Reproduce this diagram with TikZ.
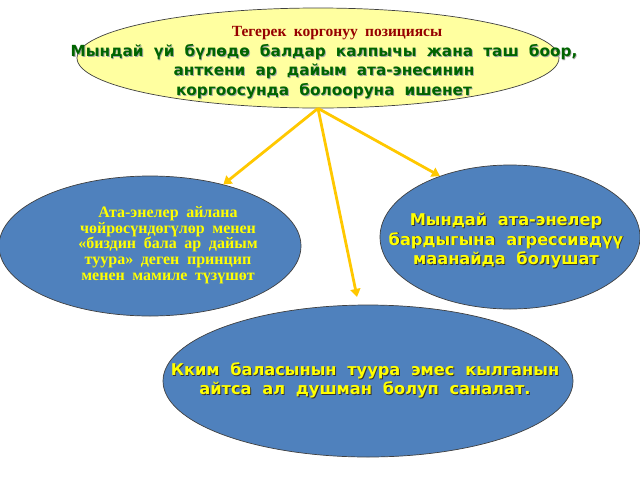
\documentclass[tikz,border=0pt]{standalone}
\usepackage{fontspec}
\usetikzlibrary{shapes.geometric,arrows.meta}
\newfontfamily\sansbold[WordSpace=1.9]{DejaVu Sans}
\newfontfamily\serifbold[WordSpace=1.9]{Liberation Serif}
\definecolor{topfill}{RGB}{255,255,160}
\definecolor{ovalblue}{RGB}{79,129,189}
\definecolor{arrowyellow}{RGB}{255,200,0}
\definecolor{textgreen}{RGB}{0,100,0}
\definecolor{titlered}{RGB}{150,0,0}
\definecolor{textyellow}{RGB}{255,255,0}
\newcommand{\shadowtxt}[2][black!80]{\leavevmode\rlap{\kern0.9pt\raisebox{-0.9pt}{\color{#1}#2}}#2}
\tikzset{
  bubble/.style={ellipse, draw=black!75, line width=0.7pt, fill=ovalblue, inner sep=0pt},
  arr/.style={draw=arrowyellow, line width=2.8pt, -{Triangle[length=8pt,width=10pt]}},
  sanstext/.style={align=center, font=\sansbold\bfseries\fontsize{16.2}{19.5}\selectfont},
  seriftext/.style={align=center, font=\serifbold\bfseries\fontsize{16}{15.8}\selectfont}
}
\begin{document}
\begin{tikzpicture}[x=1pt,y=-1pt]
\useasboundingbox (0,0) rectangle (640,480);
\node[bubble, fill=topfill, minimum width=482pt, minimum height=100pt] (top) at (318,58) {};
\node[bubble, minimum width=302pt, minimum height=140pt] (left) at (150,246) {};
\node[bubble, minimum width=260pt, minimum height=144pt] (right) at (510,237) {};
\node[bubble, minimum width=410pt, minimum height=152pt] (bottom) at (368,381) {};
\draw[arr] (top.south) -- (left.40);
\draw[arr] (top.south) -- (right.139);
\draw[arr, shorten >=8pt] (top.south) -- (bottom.97);
\node[text=titlered, font=\serifbold\bfseries\fontsize{15.5}{16}\selectfont] (toptitle) at (337,33) {Тегерек коргонуу позициясы};
\node[sanstext, text=textgreen, font=\sansbold\bfseries\fontsize{15.3}{19.5}\selectfont] (toptext) at (324,72) {\shadowtxt[black!35]{Мындай үй бүлөдө балдар калпычы жана таш боор,}\\
  \shadowtxt[black!35]{анткени ар дайым ата-энесинин}\\
  \shadowtxt[black!35]{коргоосунда болооруна ишенет}};
\node[seriftext, text=textyellow] (lefttext) at (168,245) {Ата-энелер айлана\\ чөйрөсүндөгүлөр менен\\ «биздин бала ар дайым\\ туура» деген принцип\\ менен мамиле түзүшөт};
\node[sanstext, text=textyellow] (righttext) at (506,241) {\shadowtxt{Мындай ата-энелер}\\
  \shadowtxt{бардыгына агрессивдүү}\\
  \shadowtxt{маанайда болушат}};
\node[sanstext, text=textyellow] (bottomtext) at (365,381) {\shadowtxt{Кким баласынын туура эмес кылганын}\\
  \shadowtxt{айтса ал душман болуп саналат.}};
\end{tikzpicture}
\end{document}
